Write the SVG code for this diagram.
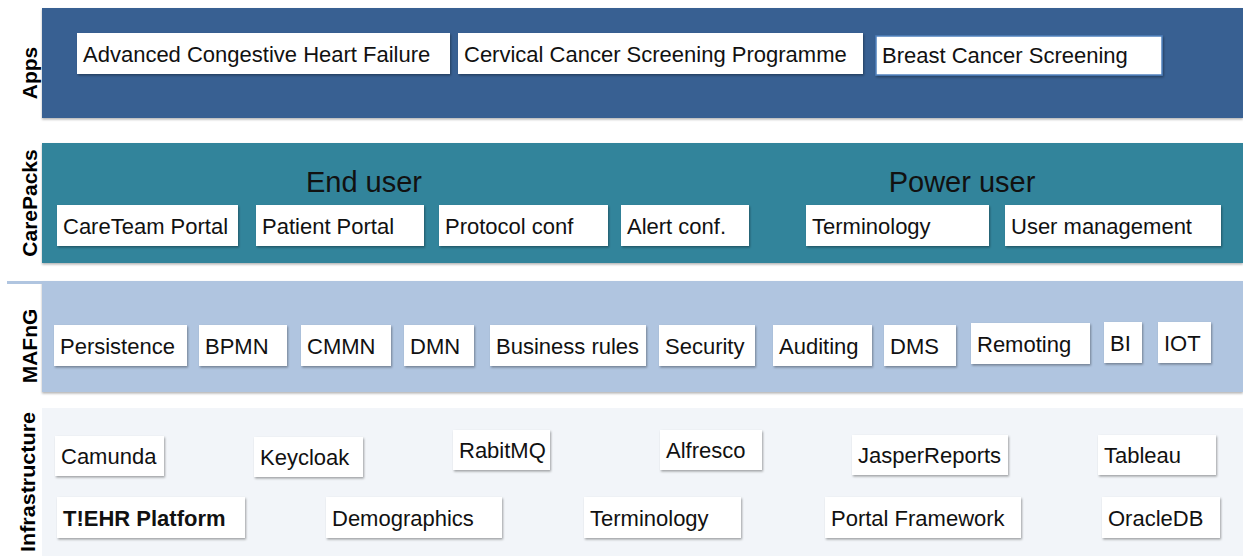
<svg xmlns="http://www.w3.org/2000/svg" width="1243" height="556" viewBox="0 0 1243 556">
  <style>
    .lbl { font-family: "Liberation Sans", Arial, sans-serif; font-size: 22px; fill: #111; }
    .bold { font-weight: bold; }
    .side { font-family: "Liberation Sans", Arial, sans-serif; font-size: 21px; font-weight: bold; fill: #000; text-anchor: middle; }
    .head { font-family: "Liberation Sans", Arial, sans-serif; font-size: 29px; fill: #111; text-anchor: middle; }
    .box { fill: #ffffff; filter: url(#shadow); }
    .band { filter: url(#bandShadow); }
  </style>
  <defs>
    <filter id="shadow" x="-10%" y="-20%" width="130%" height="150%">
      <feDropShadow dx="1" dy="1.5" stdDeviation="1" flood-color="#000" flood-opacity="0.35"/>
    </filter>
    <filter id="bandShadow" x="-5%" y="-10%" width="110%" height="130%">
      <feDropShadow dx="0" dy="1.5" stdDeviation="1" flood-color="#000" flood-opacity="0.3"/>
    </filter>
  </defs>

  <rect width="1243" height="556" fill="#ffffff"/>

  <!-- layer bands -->
  <g id="band-apps">
    <rect class="band" x="42" y="8" width="1201" height="110" fill="#386192"/>
    <text class="side" transform="translate(37,73) rotate(-90)">Apps</text>
  </g>
  <g id="band-carepacks">
    <rect class="band" x="42" y="143" width="1201" height="120" fill="#31849b"/>
    <text class="side" transform="translate(37,203) rotate(-90)">CarePacks</text>
    <text class="head" x="364" y="192">End user</text>
    <text class="head" x="962" y="192">Power user</text>
  </g>
  <g id="band-mafng">
    <rect class="band" x="42" y="281" width="1201" height="111" fill="#b0c5e0"/>
    <rect x="7" y="281" width="35" height="3" fill="#b0c5e0"/>
    <text class="side" transform="translate(37,346) rotate(-90)">MAFnG</text>
  </g>
  <g id="band-infrastructure">
    <rect x="42" y="408" width="1201" height="148" fill="#f2f5f9"/>
    <text class="side" transform="translate(35,482) rotate(-90)" textLength="140" lengthAdjust="spacingAndGlyphs">Infrastructure</text>
  </g>

  <!-- Apps -->
  <g id="app-achf">
    <rect class="box" x="77" y="33" width="373" height="41"/>
    <text class="lbl" x="83" y="62">Advanced Congestive Heart Failure</text>
  </g>
  <g id="app-cervical">
    <rect class="box" x="458" y="33" width="405" height="41"/>
    <text class="lbl" x="464" y="62">Cervical Cancer Screening Programme</text>
  </g>
  <g id="app-breast">
    <rect class="box" x="876" y="36" width="286" height="39" stroke="#4f81bd" stroke-width="1.5"/>
    <text class="lbl" x="882" y="63">Breast Cancer Screening</text>
  </g>

  <!-- CarePacks -->
  <g id="cp-careteam">
    <rect class="box" x="57" y="205" width="181" height="41"/>
    <text class="lbl" x="63" y="234">CareTeam Portal</text>
  </g>
  <g id="cp-patient">
    <rect class="box" x="256" y="205" width="168" height="41"/>
    <text class="lbl" x="262" y="234">Patient Portal</text>
  </g>
  <g id="cp-protocol">
    <rect class="box" x="439" y="205" width="169" height="41"/>
    <text class="lbl" x="445" y="234">Protocol conf</text>
  </g>
  <g id="cp-alert">
    <rect class="box" x="621" y="205" width="128" height="41"/>
    <text class="lbl" x="627" y="234">Alert conf.</text>
  </g>
  <g id="cp-terminology">
    <rect class="box" x="806" y="205" width="183" height="41"/>
    <text class="lbl" x="812" y="234">Terminology</text>
  </g>
  <g id="cp-usermgmt">
    <rect class="box" x="1005" y="205" width="216" height="41"/>
    <text class="lbl" x="1011" y="234">User management</text>
  </g>

  <!-- MAFnG -->
  <g id="m-persistence">
    <rect class="box" x="54" y="325" width="133" height="41"/>
    <text class="lbl" x="60" y="354">Persistence</text>
  </g>
  <g id="m-bpmn">
    <rect class="box" x="199" y="325" width="88" height="41"/>
    <text class="lbl" x="205" y="354">BPMN</text>
  </g>
  <g id="m-cmmn">
    <rect class="box" x="301" y="325" width="90" height="41"/>
    <text class="lbl" x="307" y="354">CMMN</text>
  </g>
  <g id="m-dmn">
    <rect class="box" x="404" y="325" width="70" height="41"/>
    <text class="lbl" x="410" y="354">DMN</text>
  </g>
  <g id="m-rules">
    <rect class="box" x="490" y="325" width="156" height="41"/>
    <text class="lbl" x="496" y="354">Business rules</text>
  </g>
  <g id="m-security">
    <rect class="box" x="659" y="325" width="96" height="41"/>
    <text class="lbl" x="665" y="354">Security</text>
  </g>
  <g id="m-auditing">
    <rect class="box" x="773" y="325" width="99" height="41"/>
    <text class="lbl" x="779" y="354">Auditing</text>
  </g>
  <g id="m-dms">
    <rect class="box" x="884" y="325" width="72" height="41"/>
    <text class="lbl" x="890" y="354">DMS</text>
  </g>
  <g id="m-remoting">
    <rect class="box" x="971" y="323" width="119" height="41"/>
    <text class="lbl" x="977" y="352">Remoting</text>
  </g>
  <g id="m-bi">
    <rect class="box" x="1104" y="322" width="38" height="41"/>
    <text class="lbl" x="1110" y="351">BI</text>
  </g>
  <g id="m-iot">
    <rect class="box" x="1158" y="322" width="53" height="41"/>
    <text class="lbl" x="1164" y="351">IOT</text>
  </g>

  <!-- Infrastructure -->
  <g id="i-camunda">
    <rect class="box" x="55" y="436" width="109" height="40"/>
    <text class="lbl" x="61" y="464">Camunda</text>
  </g>
  <g id="i-keycloak">
    <rect class="box" x="254" y="437" width="109" height="40"/>
    <text class="lbl" x="260" y="465">Keycloak</text>
  </g>
  <g id="i-rabitmq">
    <rect class="box" x="453" y="430" width="97" height="40"/>
    <text class="lbl" x="459" y="458">RabitMQ</text>
  </g>
  <g id="i-alfresco">
    <rect class="box" x="660" y="430" width="102" height="40"/>
    <text class="lbl" x="666" y="458">Alfresco</text>
  </g>
  <g id="i-jasper">
    <rect class="box" x="852" y="435" width="156" height="40"/>
    <text class="lbl" x="858" y="463">JasperReports</text>
  </g>
  <g id="i-tableau">
    <rect class="box" x="1098" y="435" width="118" height="40"/>
    <text class="lbl" x="1104" y="463">Tableau</text>
  </g>
  <g id="i-tehr">
    <rect class="box" x="57" y="497" width="188" height="41"/>
    <text class="lbl bold" x="63" y="526">T!EHR Platform</text>
  </g>
  <g id="i-demographics">
    <rect class="box" x="326" y="497" width="176" height="41"/>
    <text class="lbl" x="332" y="526">Demographics</text>
  </g>
  <g id="i-terminology">
    <rect class="box" x="584" y="497" width="157" height="41"/>
    <text class="lbl" x="590" y="526">Terminology</text>
  </g>
  <g id="i-portal">
    <rect class="box" x="825" y="497" width="196" height="41"/>
    <text class="lbl" x="831" y="526">Portal Framework</text>
  </g>
  <g id="i-oracle">
    <rect class="box" x="1102" y="497" width="118" height="41"/>
    <text class="lbl" x="1108" y="526">OracleDB</text>
  </g>

  <!-- no connectors in this layer diagram -->
  <g id="connectors"/>
</svg>
